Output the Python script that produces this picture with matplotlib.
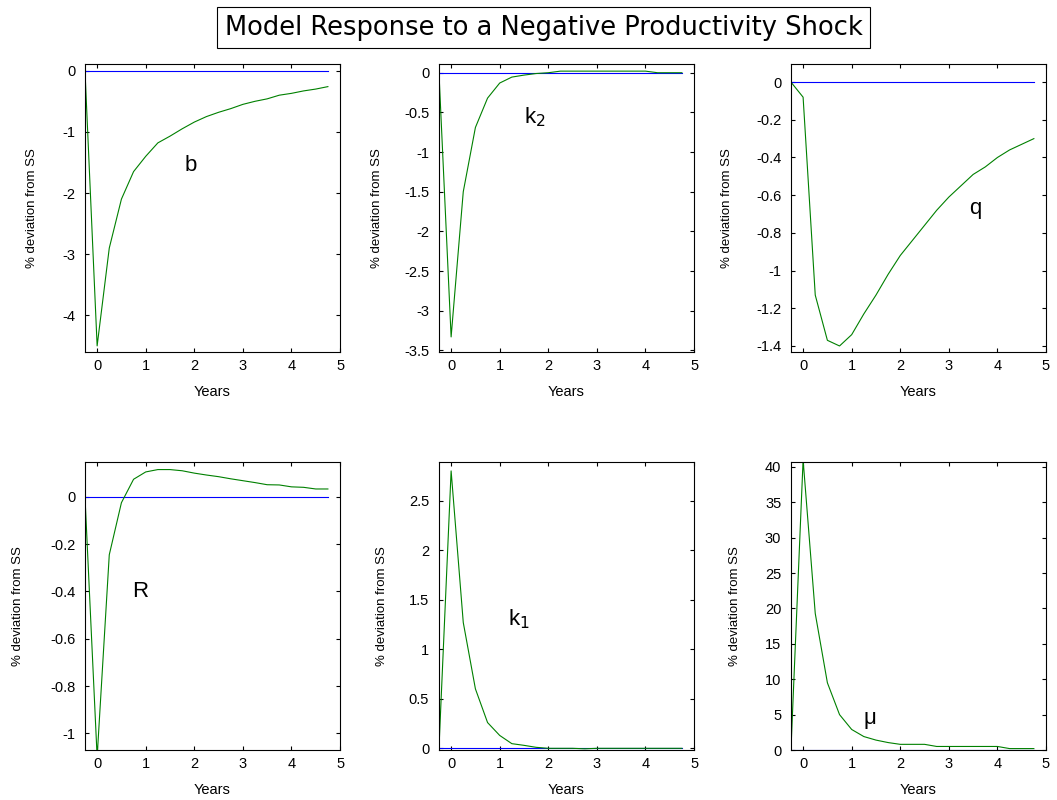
import matplotlib
matplotlib.use("Agg")
import matplotlib.pyplot as plt
import numpy as np

plt.rcParams["font.family"] = ["Liberation Sans", "DejaVu Sans"]

# quarterly horizon in years
years = [-0.25, 0.0, 0.25, 0.5, 0.75, 1.0, 1.25, 1.5, 1.75, 2.0, 2.25,
         2.5, 2.75, 3.0, 3.25, 3.5, 3.75, 4.0, 4.25, 4.5, 4.75]

b_resp = [0, -4.5, -2.9, -2.1, -1.65, -1.4, -1.18, -1.07, -0.95, -0.84, -0.75,
          -0.68, -0.62, -0.55, -0.5, -0.46, -0.4, -0.37, -0.33, -0.3, -0.26]
k2_resp = [0, -3.33, -1.5, -0.69, -0.32, -0.13, -0.055, -0.03, -0.01, 0.0, 0.02,
           0.02, 0.02, 0.02, 0.02, 0.02, 0.02, 0.02, 0.0, 0.0, 0.0]
q_resp = [0, -0.08, -1.13, -1.37, -1.40, -1.34, -1.23, -1.13, -1.02, -0.92, -0.84,
          -0.76, -0.68, -0.61, -0.55, -0.49, -0.45, -0.40, -0.36, -0.33, -0.30]
R_resp = [0, -1.1, -0.245, -0.025, 0.074, 0.105, 0.115, 0.115, 0.11, 0.10, 0.092,
          0.085, 0.076, 0.068, 0.06, 0.051, 0.05, 0.042, 0.04, 0.033, 0.033]
k1_resp = [0, 2.8, 1.27, 0.6, 0.26, 0.13, 0.047, 0.03, 0.01, 0.0, 0.0,
           0.0, -0.005, 0.0, 0.0, 0.0, 0.0, 0.0, 0.0, 0.0, 0.0]
mu_resp = [0, 41.0, 19.3, 9.5, 5.0, 2.9, 1.9, 1.4, 1.05, 0.8, 0.8,
           0.8, 0.5, 0.5, 0.5, 0.5, 0.5, 0.5, 0.2, 0.2, 0.2]

panels = [
    # series, label, label pos (x, y), ylim, yticks, ylabel x (axes fraction)
    (b_resp, "b", (1.8, -1.55), (-4.6, 0.11), [-4, -3, -2, -1, 0], -0.184),
    (k2_resp, "k$_2$", (1.49, -0.56), (-3.52, 0.11),
     [-3.5, -3, -2.5, -2, -1.5, -1, -0.5, 0], -0.22),
    (q_resp, "q", (3.41, -0.67), (-1.432, 0.096),
     [-1.4, -1.2, -1, -0.8, -0.6, -0.4, -0.2, 0], -0.227),
    (R_resp, "R", (0.72, -0.40), (-1.07, 0.147), [-1, -0.8, -0.6, -0.4, -0.2, 0], -0.239),
    (k1_resp, "k$_1$", (1.17, 1.30), (-0.017, 2.89), [0, 0.5, 1, 1.5, 2, 2.5], -0.2),
    (mu_resp, "\u03bc", (1.25, 4.5), (0, 40.7), [0, 5, 10, 15, 20, 25, 30, 35, 40], -0.196),
]

lefts = [0.0804, 0.4153, 0.7483]
bottoms = [0.56, 0.0625]
width, height = 0.2413, 0.36

fig = plt.figure(figsize=(10.57, 8), dpi=100)

for i, (resp, label, (lx, ly), ylim, yticks, ylab_x) in enumerate(panels):
    row, col = divmod(i, 3)
    ax = fig.add_axes([lefts[col], bottoms[row], width, height])
    ax.plot(years, np.zeros(len(years)), color="#0000ff", linewidth=0.8)
    ax.plot(years, resp, color="#008000", linewidth=0.8)
    ax.set_xlim(-0.25, 5)
    ax.set_ylim(*ylim)
    ax.set_xticks([0, 1, 2, 3, 4, 5])
    ax.set_yticks(yticks)
    ax.set_yticklabels([f"{t:g}" for t in yticks])
    ax.tick_params(direction="in", top=True, right=True, labelsize=10.5,
                   length=3, width=0.8)
    ax.tick_params(axis="y", pad=7)
    ax.tick_params(axis="x", pad=5)
    for s in ax.spines.values():
        s.set_linewidth(0.8)
    ax.set_xlabel("Years", fontsize=10.5, labelpad=9)
    ax.set_ylabel("% deviation from SS", fontsize=9.5)
    ax.yaxis.set_label_coords(ylab_x, 0.5)
    ax.text(lx, ly, label, fontsize=16, ha="left", va="center")

fig.text(0.5142, 0.9656, "Model Response to a Negative Productivity Shock",
         fontsize=18.5, ha="center", va="center", family="DejaVu Sans",
         bbox=dict(boxstyle="square,pad=0.3", facecolor="white",
                   edgecolor="black", linewidth=0.8))

fig.savefig("out.png", dpi=100)
